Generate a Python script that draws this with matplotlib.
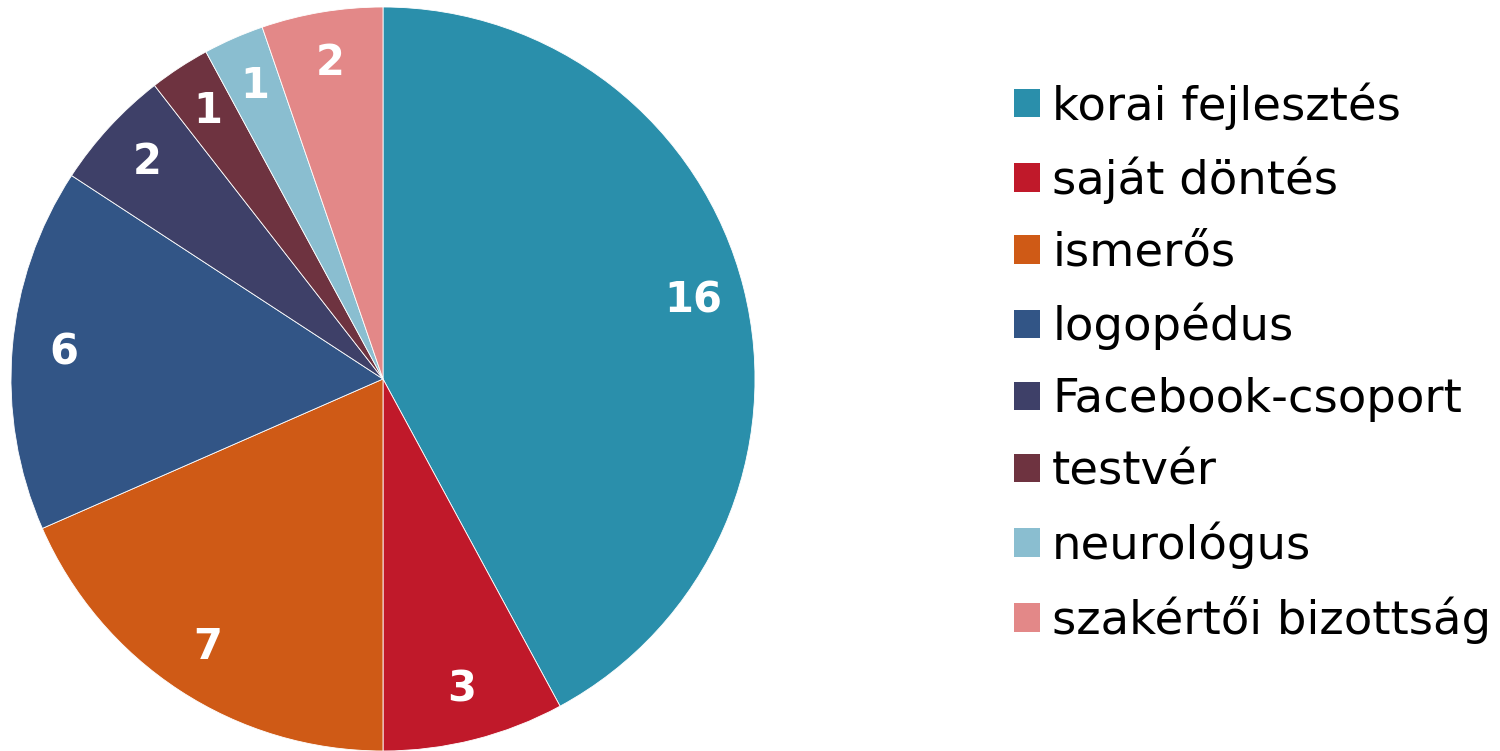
import matplotlib
matplotlib.use('Agg')
import matplotlib.pyplot as plt
from matplotlib.patches import Patch

labels = ['korai fejlesztés', 'saját döntés', 'ismerős', 'logopédus',
          'Facebook-csoport', 'testvér', 'neurológus', 'szakértői bizottság']
values = [16, 3, 7, 6, 2, 1, 1, 2]
colors = ['#2A8FAB', '#C0192A', '#CF5A16', '#325586',
          '#3E4068', '#6E3340', '#8ABED0', '#E38888']

plt.rcParams['font.family'] = ['DejaVu Sans']
total = sum(values)

fig = plt.figure(figsize=(15, 7.51), dpi=100)
ax = fig.add_axes([11 / 1500, 0, 744 / 1500, 744 / 751])

wedges, texts, autotexts = ax.pie(
    values, colors=colors, startangle=90, counterclock=False,
    autopct=lambda p: '{:d}'.format(int(round(p * total / 100))),
    pctdistance=0.86,
    wedgeprops=dict(edgecolor='white', linewidth=0.6),
    textprops=dict(color='white', fontsize=30, fontweight='bold'))
ax.set_xlim(-1, 1)
ax.set_ylim(-1, 1)

handles = [Patch(facecolor=c, edgecolor='none') for c in colors]
fig.legend(handles, labels, loc='upper left', bbox_to_anchor=(1014 / 1500, 1 - 82 / 751),
           frameon=False, fontsize=33.5, handlelength=0.56, handleheight=0.56,
           handletextpad=0.26, labelspacing=0.58, borderaxespad=0, borderpad=0)

fig.savefig('out.png', dpi=100)
